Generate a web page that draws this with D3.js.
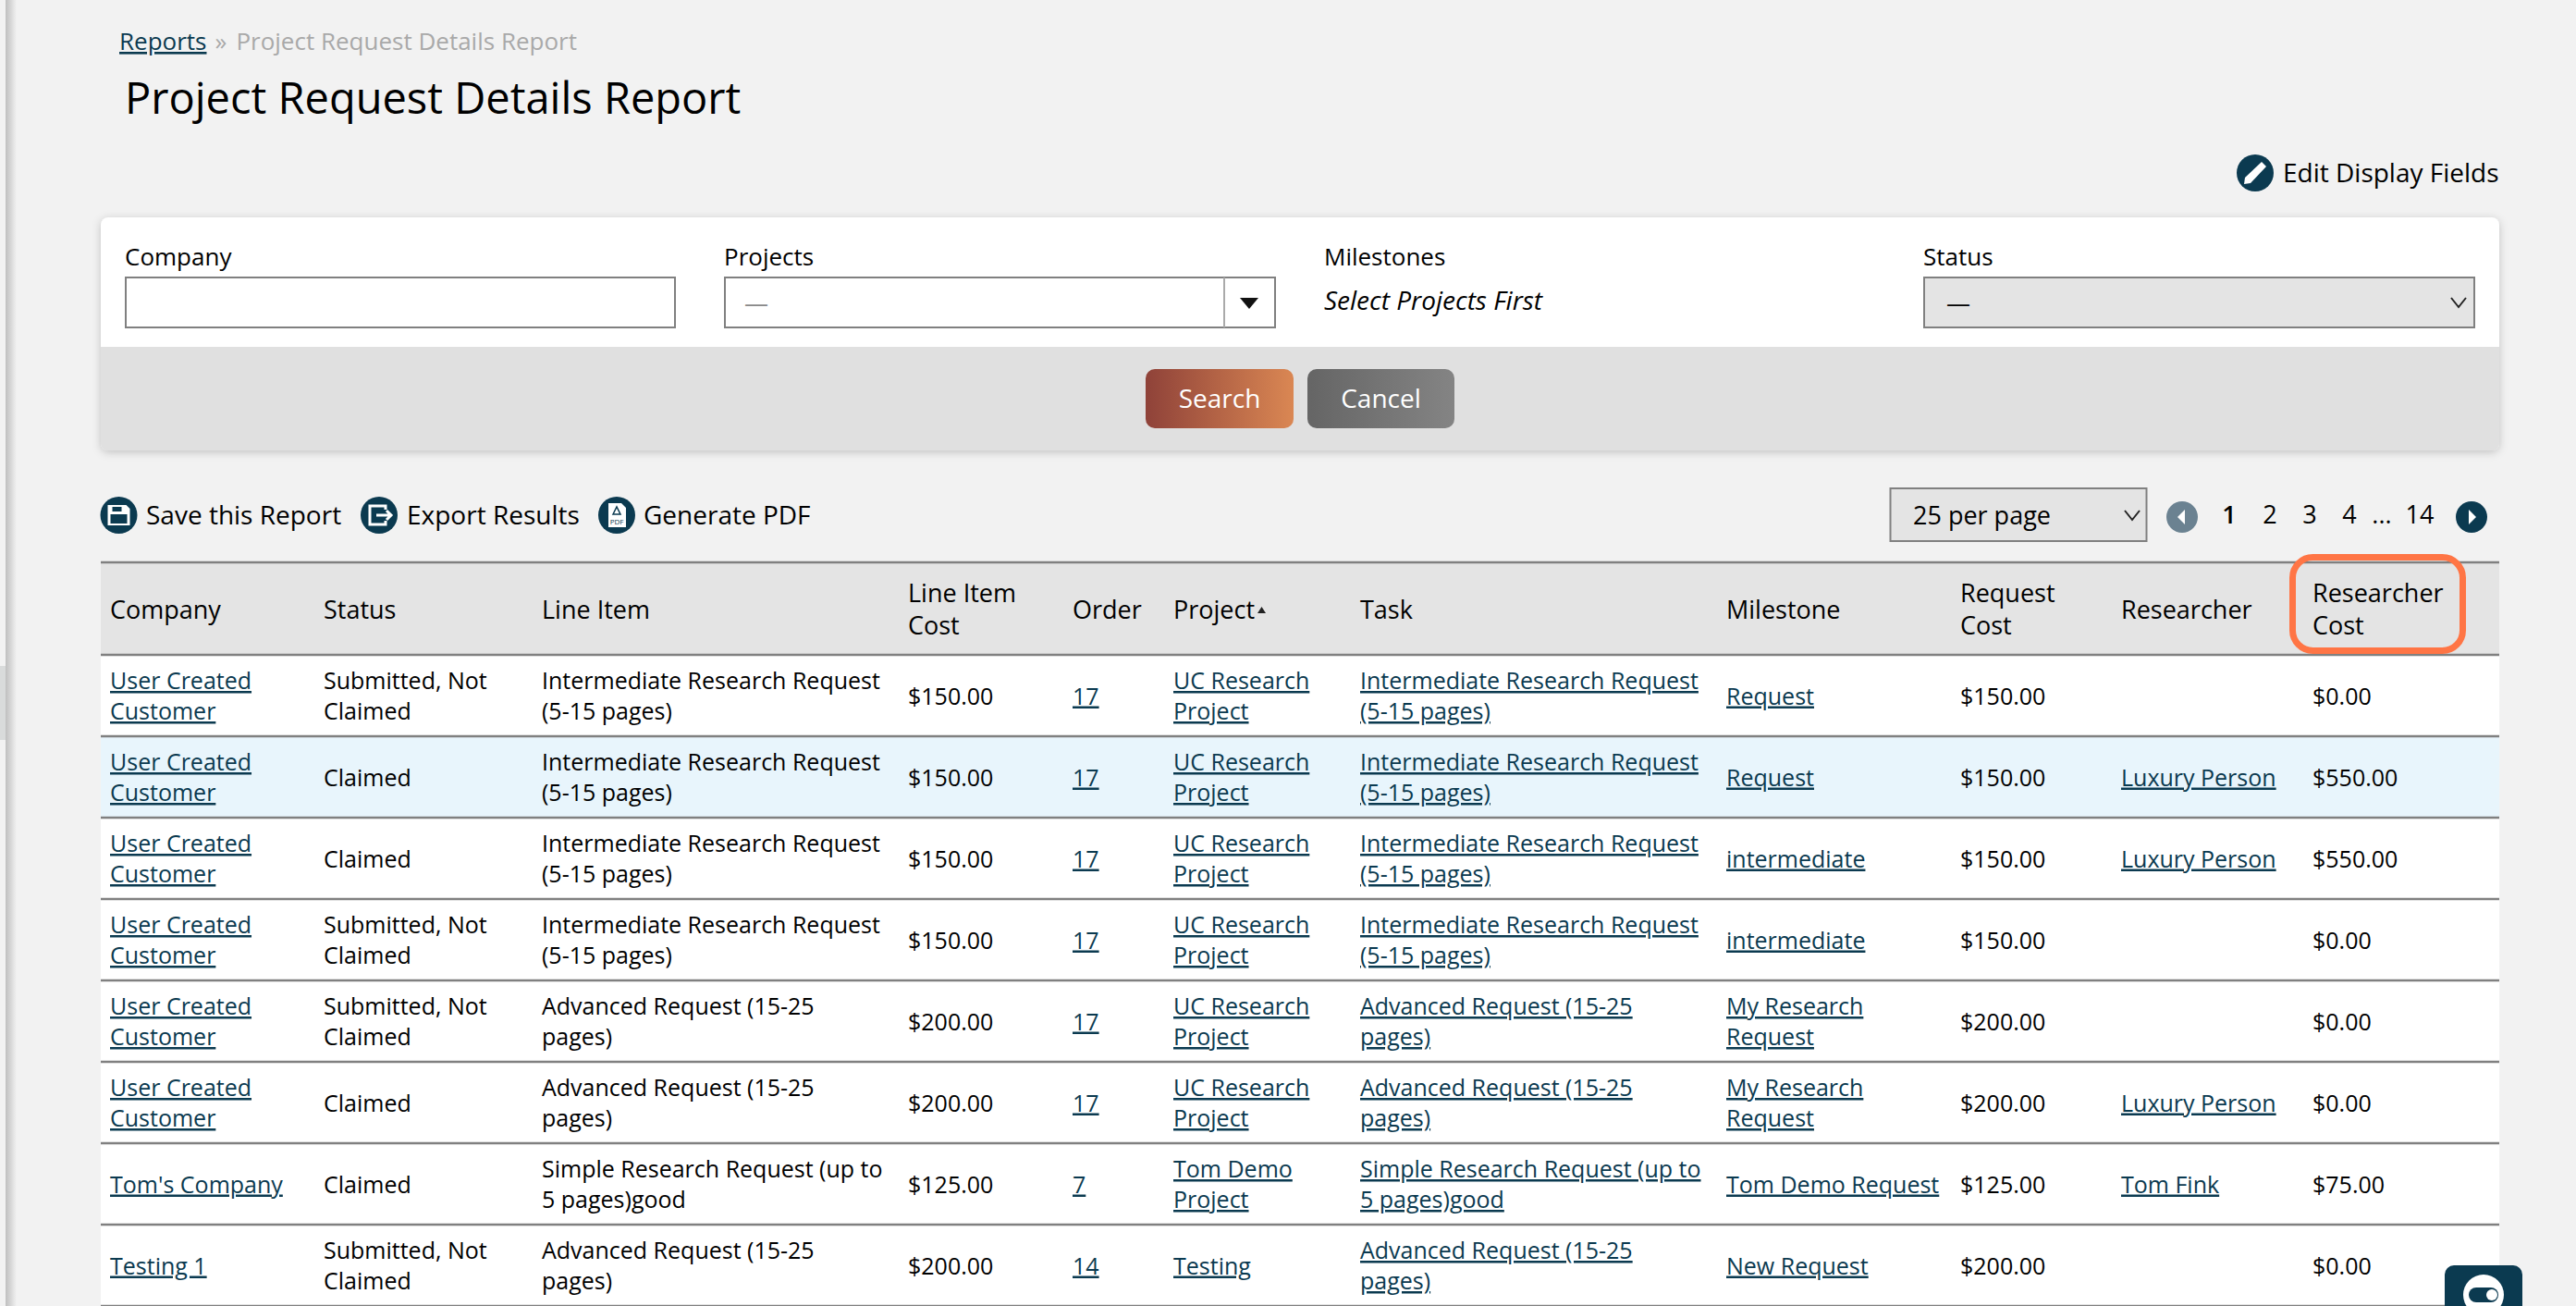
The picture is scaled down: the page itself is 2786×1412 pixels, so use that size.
<!DOCTYPE html>
<html lang="en">
<head>
    <meta charset="UTF-8">
    <title>Project Request Details Report</title>
    <script src="https://d3js.org/d3.v7.min.js"></script>
    <style>
        html, body { margin: 0; padding: 0; background: #f2f2f2; overflow: hidden; }
        svg { display: block; }
        text { font-family: "Open Sans", sans-serif; font-size: 26px; fill: #000; }
        .big { font-size: 28px; }
        .head { font-size: 27px; }
        .cell { font-size: 25px; }
        .link { fill: #0b3a50; text-decoration: underline; text-decoration-thickness: 2px; }
    </style>
</head>
<body>
<svg id="chart" width="2786" height="1412"></svg>

<script>
    // table content, one array per column
    const columnHeads = ["Company", "Status", "Line Item", "Line Item\nCost", "Order", "Project", "Task",
        "Milestone", "Request\nCost", "Researcher", "Researcher\nCost"];
    const companies = ["User Created\nCustomer", "User Created\nCustomer", "User Created\nCustomer", "User Created\nCustomer",
        "User Created\nCustomer", "User Created\nCustomer", "Tom's Company", "Testing 1"];
    const statuses = ["Submitted, Not\nClaimed", "Claimed", "Claimed", "Submitted, Not\nClaimed",
        "Submitted, Not\nClaimed", "Claimed", "Claimed", "Submitted, Not\nClaimed"];
    const lineItems = ["Intermediate Research Request\n(5-15 pages)", "Intermediate Research Request\n(5-15 pages)",
        "Intermediate Research Request\n(5-15 pages)", "Intermediate Research Request\n(5-15 pages)",
        "Advanced Request (15-25\npages)", "Advanced Request (15-25\npages)",
        "Simple Research Request (up to\n5 pages)good", "Advanced Request (15-25\npages)"];
    const lineItemCosts = ["$150.00", "$150.00", "$150.00", "$150.00", "$200.00", "$200.00", "$125.00", "$200.00"];
    const orders = ["17", "17", "17", "17", "17", "17", "7", "14"];
    const projects = ["UC Research\nProject", "UC Research\nProject", "UC Research\nProject", "UC Research\nProject",
        "UC Research\nProject", "UC Research\nProject", "Tom Demo\nProject", "Testing"];
    const tasks = lineItems;
    const milestones = ["Request", "Request", "intermediate", "intermediate",
        "My Research\nRequest", "My Research\nRequest", "Tom Demo Request", "New Request"];
    const requestCosts = lineItemCosts;
    const researchers = ["", "Luxury Person", "Luxury Person", "", "", "Luxury Person", "Tom Fink", ""];
    const researcherCosts = ["$0.00", "$550.00", "$550.00", "$0.00", "$0.00", "$0.00", "$75.00", "$0.00"];

    const tableColumns = [companies, statuses, lineItems, lineItemCosts, orders, projects, tasks,
        milestones, requestCosts, researchers, researcherCosts];
    const linkColumns = ["Company", "Order", "Project", "Task", "Milestone", "Researcher"];

    const pageNumbers = ["1", "2", "3", "4", "14"];
    const highlightedRow = 1;

    const navy = "#0b3a50";
    const svg = d3.select("#chart");
    const defs = svg.append("defs");

    function addGradient(id, from, to) {
        const g = defs.append("linearGradient").attr("id", id);
        g.append("stop").attr("offset", "0%").attr("stop-color", from);
        g.append("stop").attr("offset", "100%").attr("stop-color", to);
    }
    addGradient("searchGrad", "#8f4239", "#da8753");
    addGradient("cancelGrad", "#656565", "#848484");
    addGradient("stripGrad", "#bfbfbf", "#f2f2f2");

    const shadow = defs.append("filter").attr("id", "cardShadow")
        .attr("x", "-2%").attr("y", "-5%").attr("width", "104%").attr("height", "112%");
    shadow.append("feDropShadow").attr("dx", 0).attr("dy", 2).attr("stdDeviation", 5)
        .attr("flood-color", "#000").attr("flood-opacity", 0.2);

    // scales: columns sit at uneven positions, rows share one height
    const xCol = d3.scaleOrdinal()
        .domain(columnHeads)
        .range([119, 350, 586, 982, 1160, 1269, 1471, 1867, 2120, 2294, 2501]);
    const yRow = d3.scaleBand().domain(d3.range(companies.length)).range([708, 1412]);

    const left = 109, right = 2703;

    // multi line text helper, lines are split on \n and centred round cy
    function multiline(g, str, x, cy, lineGap, cls) {
        const lines = str.split("\n");
        const t = g.append("text").attr("class", cls);
        lines.forEach((line, i) => {
            t.append("tspan").attr("x", x)
                .attr("y", cy + 9.5 + (i - (lines.length - 1) / 2) * lineGap)
                .text(line);
        });
        return t;
    }

    // ---- page edge ----
    svg.append("rect").attr("x", 6).attr("y", 0).attr("width", 12).attr("height", 1412)
        .attr("fill", "url(#stripGrad)");
    svg.append("rect").attr("x", 0).attr("y", 720).attr("width", 6).attr("height", 80).attr("fill", "#d9dbdb");

    // ---- heading ----
    const crumb = svg.append("text").attr("x", 129).attr("y", 54);
    crumb.append("tspan").attr("class", "link").text("Reports");
    crumb.append("tspan").attr("dx", 9).style("fill", "#a9a9a9").text("»");
    crumb.append("tspan").attr("dx", 10).style("fill", "#a9a9a9").text("Project Request Details Report");
    svg.append("text").attr("x", 135).attr("y", 123).style("font-size", "47px").text("Project Request Details Report");

    function iconCircle(cx, cy, r, fill) {
        return svg.append("g").attr("transform", `translate(${cx},${cy})`)
            .call(g => g.append("circle").attr("r", r).attr("fill", fill || navy));
    }

    const editIcon = iconCircle(2439, 187, 20);
    editIcon.append("path").attr("d", "M7,-12L12,-7L-5,11L-12,12L-11,5Z").attr("fill", "#fff");
    svg.append("text").attr("class", "big").attr("x", 2469).attr("y", 197).text("Edit Display Fields");

    // ---- filter card ----
    svg.append("rect").attr("x", left).attr("y", 235).attr("width", right - left).attr("height", 252)
        .attr("rx", 8).attr("fill", "#e0e0e0").attr("filter", "url(#cardShadow)");
    svg.append("path").attr("fill", "#fff")
        .attr("d", `M${left},375V243a8,8 0 0 1 8,-8H${right - 8}a8,8 0 0 1 8,8V375Z`);

    function field(x, y, w, h, fill) {
        svg.append("rect").attr("x", x).attr("y", y).attr("width", w).attr("height", h)
            .attr("fill", fill).attr("stroke", "#808080").attr("stroke-width", 2);
    }
    function chevron(cx, cy) {
        svg.append("path").attr("d", `M${cx - 8},${cy - 5}L${cx},${cy + 5}L${cx + 8},${cy - 5}`)
            .attr("fill", "none").attr("stroke", "#222").attr("stroke-width", 2);
    }

    svg.append("text").attr("x", 135).attr("y", 287).text("Company");
    field(136, 300, 594, 54, "#fff");

    svg.append("text").attr("x", 783).attr("y", 287).text("Projects");
    field(784, 300, 595, 54, "#fff");
    svg.append("line").attr("x1", 1324).attr("x2", 1324).attr("y1", 300).attr("y2", 354).attr("stroke", "#aaa").attr("stroke-width", 2);
    svg.append("path").attr("d", "M1341,322H1361L1351,334Z").attr("fill", "#111");
    svg.append("text").attr("x", 805).attr("y", 337).style("fill", "#888").text("—");

    svg.append("text").attr("x", 1432).attr("y", 287).text("Milestones");
    svg.append("text").attr("class", "big").attr("x", 1432).attr("y", 335).style("font-style", "italic").text("Select Projects First");

    svg.append("text").attr("x", 2080).attr("y", 287).text("Status");
    field(2081, 300, 595, 54, "#e4e4e4");
    svg.append("text").attr("x", 2105).attr("y", 337).text("—");
    chevron(2659, 327);

    function button(x, w, grad, label) {
        svg.append("rect").attr("x", x).attr("y", 399).attr("width", w).attr("height", 64).attr("rx", 10)
            .attr("fill", `url(#${grad})`);
        svg.append("text").attr("class", "big").attr("x", x + w / 2).attr("y", 441).attr("text-anchor", "middle")
            .style("fill", "#fff").text(label);
    }
    button(1239, 160, "searchGrad", "Search");
    button(1414, 159, "cancelGrad", "Cancel");

    // ---- action row ----
    const saveIcon = iconCircle(128.5, 557, 20);
    saveIcon.append("path").attr("d", "M-12,-11H8L12,-7V11H-12Z").attr("fill", "#fff");
    saveIcon.append("rect").attr("x", -9).attr("y", -1).attr("width", 18).attr("height", 10).attr("fill", navy);
    saveIcon.append("rect").attr("x", -7).attr("y", -9).attr("width", 10).attr("height", 5).attr("fill", navy);
    svg.append("text").attr("class", "big").attr("x", 158).attr("y", 567).text("Save this Report");

    const exportIcon = iconCircle(410, 557, 20);
    exportIcon.append("path").attr("d", "M7,-6V-10H-10V10H7V6").attr("fill", "none").attr("stroke", "#fff").attr("stroke-width", 3);
    exportIcon.append("path").attr("d", "M-3,0H13M8,-5L13,0L8,5").attr("fill", "none").attr("stroke", "#fff").attr("stroke-width", 3);
    svg.append("text").attr("class", "big").attr("x", 440).attr("y", 567).text("Export Results");

    const pdfIcon = iconCircle(667, 557, 20);
    pdfIcon.append("path").attr("d", "M-9,-13H5L10,-8V13H-9Z").attr("fill", "#fff");
    pdfIcon.append("text").attr("y", 10).attr("text-anchor", "middle").style("font-size", "8px").style("fill", navy).text("PDF");
    pdfIcon.append("path").attr("d", "M-4,-1L0,-9L4,-1Z").attr("fill", "none").attr("stroke", navy).attr("stroke-width", 1.5);
    svg.append("text").attr("class", "big").attr("x", 696).attr("y", 567).text("Generate PDF");

    field(2044.5, 528, 277, 57, "#e4e4e4");
    svg.append("text").attr("class", "head").attr("x", 2069).attr("y", 567).text("25 per page");
    chevron(2306, 557);

    // ---- pager ----
    const prevIcon = iconCircle(2360, 559, 17, "#6b8291");
    prevIcon.append("path").attr("d", "M3,-8V8L-5,0Z").attr("fill", "#fff");
    const nextIcon = iconCircle(2673, 559, 17);
    nextIcon.append("path").attr("d", "M-3,-8V8L5,0Z").attr("fill", "#fff");

    const xPage = d3.scaleOrdinal().domain(pageNumbers).range([2411, 2455, 2498, 2541, 2617]);
    svg.selectAll(".page").data(pageNumbers).join("text")
        .attr("class", "page head")
        .attr("x", d => xPage(d)).attr("y", 566).attr("text-anchor", "middle")
        .style("font-weight", (d, i) => i === 0 ? 600 : 400)
        .text(d => d);
    svg.append("text").attr("class", "head").attr("x", 2576).attr("y", 566).attr("text-anchor", "middle").text("...");

    // ---- table ----
    svg.append("rect").attr("x", left).attr("y", 608).attr("width", right - left).attr("height", 100).attr("fill", "#e4e4e4");
    svg.append("rect").attr("x", left).attr("y", 708).attr("width", right - left).attr("height", 704).attr("fill", "#fff");
    svg.append("rect").attr("x", left).attr("y", yRow(highlightedRow)).attr("width", right - left).attr("height", yRow.bandwidth())
        .attr("fill", "#e8f5fc");

    columnHeads.forEach(h => multiline(svg, h, xCol(h), 659, 35.5, "head"));
    svg.append("path").attr("d", "M1360,663L1364.5,656L1369,663Z").attr("fill", "#222");

    const ruleYs = [608].concat(yRow.domain().map(i => yRow(i))).concat([1412]);
    svg.selectAll(".rule").data(ruleYs).join("line")
        .attr("class", "rule")
        .attr("x1", left).attr("x2", right)
        .attr("y1", d => d).attr("y2", d => d)
        .attr("stroke", "#808080").attr("stroke-width", 2.5);

    const rows = svg.selectAll(".row").data(yRow.domain()).join("g").attr("class", "row");
    rows.each(function (r) {
        const g = d3.select(this);
        const cy = yRow(r) + yRow.bandwidth() / 2;
        columnHeads.forEach((h, c) => {
            const val = tableColumns[c][r];
            if (val) multiline(g, val, xCol(h), cy, 33, linkColumns.includes(h) ? "cell link" : "cell");
        });
    });

    // orange call-out round the last header
    svg.append("rect").attr("x", 2479.5).attr("y", 602.5).attr("width", 184).attr("height", 101).attr("rx", 22)
        .attr("fill", "none").attr("stroke", "#ff7545").attr("stroke-width", 7);

    // ---- floating widget bottom right ----
    svg.append("path").attr("d", "M2644,1412V1378a10,10 0 0 1 10,-10H2718a10,10 0 0 1 10,10V1412Z").attr("fill", navy);
    svg.append("circle").attr("cx", 2686).attr("cy", 1400).attr("r", 22).attr("fill", "#fff");
    svg.append("rect").attr("x", 2670).attr("y", 1392).attr("width", 32).attr("height", 16).attr("rx", 8).attr("fill", navy);
    svg.append("circle").attr("cx", 2695).attr("cy", 1400).attr("r", 6).attr("fill", "#fff");
</script>
</body>
</html>
